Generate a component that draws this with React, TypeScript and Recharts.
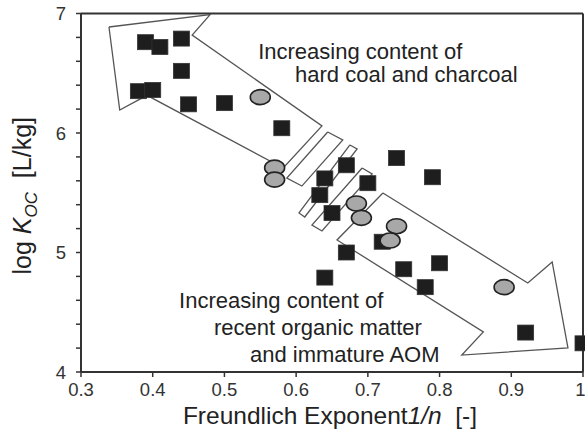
import { ScatterChart, Scatter, XAxis, YAxis, ReferenceLine, ReferenceDot, Label } from "recharts"

type Pt = { x: number; y: number }

const FONT = "'Liberation Sans', Arial, Helvetica, sans-serif"

const xTicks = [0.3, 0.4, 0.5, 0.6, 0.7, 0.8, 0.9, 1.0]
const yTicks = [4, 4.2, 4.4, 4.6, 4.8, 5, 5.2, 5.4, 5.6, 5.8, 6, 6.2, 6.4, 6.6, 6.8, 7]

// black squares
const squares: Pt[] = [
  { x: 0.39, y: 6.76 }, { x: 0.41, y: 6.72 }, { x: 0.44, y: 6.79 }, { x: 0.44, y: 6.52 },
  { x: 0.38, y: 6.35 }, { x: 0.40, y: 6.36 }, { x: 0.45, y: 6.24 }, { x: 0.50, y: 6.25 },
  { x: 0.58, y: 6.04 }, { x: 0.67, y: 5.73 }, { x: 0.74, y: 5.79 }, { x: 0.79, y: 5.63 },
  { x: 0.64, y: 5.62 }, { x: 0.633, y: 5.48 }, { x: 0.70, y: 5.58 }, { x: 0.65, y: 5.33 },
  { x: 0.72, y: 5.09 }, { x: 0.67, y: 5.0 }, { x: 0.64, y: 4.79 }, { x: 0.75, y: 4.86 },
  { x: 0.80, y: 4.91 }, { x: 0.78, y: 4.71 }, { x: 0.92, y: 4.33 }, { x: 1.0, y: 4.24 },
]

// grey circles
const circles: Pt[] = [
  { x: 0.55, y: 6.30 }, { x: 0.57, y: 5.71 }, { x: 0.57, y: 5.61 }, { x: 0.684, y: 5.41 },
  { x: 0.691, y: 5.29 }, { x: 0.74, y: 5.22 }, { x: 0.731, y: 5.10 }, { x: 0.89, y: 4.71 },
]

// arrow outlines (closed)
const upperArrow: Pt[] = [
  { x: 0.339, y: 6.887 }, { x: 0.48, y: 6.99 }, { x: 0.455, y: 6.82 }, { x: 0.636, y: 6.059 },
  { x: 0.582, y: 5.707 }, { x: 0.392, y: 6.315 }, { x: 0.354, y: 6.192 }, { x: 0.339, y: 6.887 },
]
const barA: Pt[] = [
  { x: 0.644, y: 6.008 }, { x: 0.665, y: 5.941 }, { x: 0.608, y: 5.556 }, { x: 0.587, y: 5.623 }, { x: 0.644, y: 6.008 },
]
const barB: Pt[] = [
  { x: 0.675, y: 5.9 }, { x: 0.685, y: 5.866 }, { x: 0.612, y: 5.297 }, { x: 0.604, y: 5.331 }, { x: 0.675, y: 5.9 },
]
const barC: Pt[] = [
  { x: 0.692, y: 5.707 }, { x: 0.706, y: 5.657 }, { x: 0.636, y: 5.18 }, { x: 0.622, y: 5.23 }, { x: 0.692, y: 5.707 },
]
const lowerArrow: Pt[] = [
  { x: 0.721, y: 5.498 }, { x: 0.923, y: 4.745 }, { x: 0.957, y: 4.921 }, { x: 0.979, y: 4.201 },
  { x: 0.831, y: 4.142 }, { x: 0.861, y: 4.335 }, { x: 0.657, y: 5.105 }, { x: 0.721, y: 5.498 },
]

const upperNote = ["Increasing content of", "hard coal and charcoal"]
const lowerNote = ["Increasing content of", "recent organic matter", "and immature AOM"]

const outline = [upperArrow, barA, barB, barC, lowerArrow]

const noDot = () => <g />

const Square = (p: any) => (
  <rect x={p.cx - 8} y={p.cy - 7.5} width={16} height={15} fill="#1e1e1e" stroke="#333" strokeWidth={0.8} />
)

const Ellipse = (p: any) => (
  <ellipse cx={p.cx} cy={p.cy} rx={10} ry={7.5} fill="#a8a8a8" stroke="#222" strokeWidth={1.6} />
)

const note = (text: string) => (p: any) => (
  <text x={p.cx} y={p.cy} fontSize={22} fontFamily={FONT} fill="#222">{text}</text>
)

const XTitle = ({ viewBox }: any) => {
  const cx = viewBox.x + viewBox.width / 2 - 2
  return (
    <text x={cx} y={viewBox.y + 52} textAnchor="middle" fontSize={24.5} fontFamily={FONT} fill="#222" style={{ whiteSpace: "pre" }}>
      Freundlich Exponent<tspan fontStyle="italic">1/n</tspan>{"  [-]"}
    </text>
  )
}

const YTitle = ({ viewBox }: any) => {
  const cx = 31
  const cy = viewBox.y + viewBox.height / 2 + 3
  return (
    <text x={cx} y={cy} transform={`rotate(-90 ${cx} ${cy})`} textAnchor="middle" fontSize={25} fontFamily={FONT} fill="#222" style={{ whiteSpace: "pre" }}>
      log <tspan fontStyle="italic">K</tspan>
      <tspan fontStyle="italic" fontSize={17} dy={6}>OC</tspan>
      <tspan dy={-6}>{"  [L/kg]"}</tspan>
    </text>
  )
}

export default function App() {
  const tickStyle = { fill: "#333", fontSize: 18.5, fontFamily: FONT }
  return (
    <div style={{ position: "absolute", left: 0, top: 0, background: "#fff" }}>
      <ScatterChart width={585} height={435} margin={{ top: 13.5, right: 2, bottom: 0, left: 0 }}>
        <XAxis
          type="number"
          dataKey="x"
          domain={[0.3, 1]}
          ticks={xTicks}
          tickFormatter={(v: number) => (v === 1 ? "1" : v.toFixed(1))}
          height={63}
          tick={tickStyle}
          tickSize={5}
          tickMargin={6}
          axisLine={{ stroke: "#333", strokeWidth: 2 }}
          tickLine={{ stroke: "#333", strokeWidth: 1.5 }}
          label={<Label content={XTitle} />}
        />
        <YAxis
          type="number"
          dataKey="y"
          domain={[4, 7]}
          ticks={yTicks}
          interval={0}
          tickFormatter={(v: number) => (Math.abs(v - Math.round(v)) < 1e-6 ? String(Math.round(v)) : "")}
          width={81}
          tick={tickStyle}
          tickSize={5}
          tickMargin={10}
          axisLine={{ stroke: "#333", strokeWidth: 2 }}
          tickLine={{ stroke: "#333", strokeWidth: 1.5 }}
          label={<Label content={YTitle} />}
        />
        <ReferenceLine y={7} stroke="#333" strokeWidth={2} />
        <ReferenceLine x={1} stroke="#333" strokeWidth={2} />
        {outline.map((pts, i) => (
          <Scatter
            key={i}
            data={pts}
            line={{ stroke: "#555", strokeWidth: 1.3 }}
            lineType="joint"
            shape={noDot}
            isAnimationActive={false}
          />
        ))}
        <Scatter data={squares} shape={Square} isAnimationActive={false} />
        <Scatter data={circles} shape={Ellipse} isAnimationActive={false} />
        <ReferenceDot x={0.547} y={6.619} r={0} shape={note(upperNote[0])} />
        <ReferenceDot x={0.5985} y={6.427} r={0} shape={note(upperNote[1])} />
        <ReferenceDot x={0.4367} y={4.536} r={0} shape={note(lowerNote[0])} />
        <ReferenceDot x={0.4855} y={4.31} r={0} shape={note(lowerNote[1])} />
        <ReferenceDot x={0.5357} y={4.084} r={0} shape={note(lowerNote[2])} />
      </ScatterChart>
    </div>
  )
}
